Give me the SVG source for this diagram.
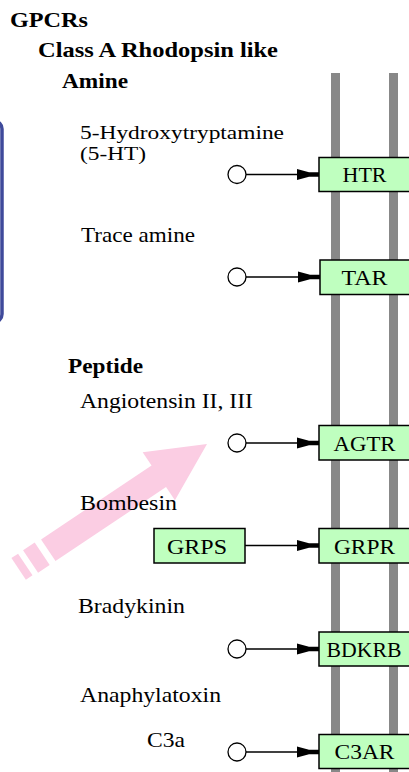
<svg xmlns="http://www.w3.org/2000/svg" width="409" height="772" viewBox="0 0 409 772">
<style>
text{font-family:"Liberation Serif","Times New Roman",serif;font-size:21px;fill:#000}
.h{font-weight:bold}
.sm{font-size:19px}
.bar{fill:#888}
.box{fill:#bfffbf;stroke:#000;stroke-width:1.5}
.lbl{text-anchor:middle}
.cpd{fill:#fff;stroke:#000;stroke-width:1.3}
.edge{stroke:#000;stroke-width:1.5;fill:none;marker-end:url(#ah)}
</style>
<defs>
<marker id="ah" markerUnits="userSpaceOnUse" markerWidth="24" markerHeight="14" viewBox="-24 -7 24 14" refX="0" refY="0" orient="auto">
<path d="M-22,-5.5 L-10,-2.2 L0,-2.2 L0,2.2 L-10,2.2 L-22,5.5 Z" fill="#000"/>
</marker>
</defs>
<rect width="409" height="772" fill="#fff"/>
<rect x="-20" y="121" width="22" height="201" rx="8" fill="none" stroke="#3f4a9b" stroke-width="3.5"/>
<g id="membrane">
<rect class="bar" x="331" y="73" width="9" height="700"/>
<rect class="bar" x="389" y="73" width="9" height="700"/>
</g>
<g id="highlight-arrow" transform="translate(207,444) rotate(-33.8)" fill="#fbcde3">
<polygon points="0,0 -58,-29 -58,-13 -191,-13 -191,13 -58,13 -58,29"/>
<rect x="-212" y="-14" width="14" height="27"/>
<rect x="-226" y="-14" width="8" height="26"/>
</g>
<g id="headings">
<text class="h" x="10" y="27" textLength="78" lengthAdjust="spacingAndGlyphs">GPCRs</text>
<text class="h" x="38" y="57" textLength="240" lengthAdjust="spacingAndGlyphs">Class A  Rhodopsin like</text>
<text class="h" x="62" y="88" textLength="66" lengthAdjust="spacingAndGlyphs">Amine</text>
<text class="h" x="68" y="373" textLength="75" lengthAdjust="spacingAndGlyphs">Peptide</text>
</g>
<g id="ligand-labels">
<text class="sm" x="80" y="139" textLength="204" lengthAdjust="spacingAndGlyphs">5-Hydroxytryptamine</text>
<text class="sm" x="80" y="160" textLength="66" lengthAdjust="spacingAndGlyphs">(5-HT)</text>
<text x="81" y="242" textLength="114" lengthAdjust="spacingAndGlyphs">Trace amine</text>
<text x="80" y="408" textLength="173" lengthAdjust="spacingAndGlyphs">Angiotensin II, III</text>
<text x="80" y="510" textLength="97" lengthAdjust="spacingAndGlyphs">Bombesin</text>
<text x="78" y="613" textLength="107" lengthAdjust="spacingAndGlyphs">Bradykinin</text>
<text x="80" y="702" textLength="141" lengthAdjust="spacingAndGlyphs">Anaphylatoxin</text>
<text x="147" y="747" textLength="38" lengthAdjust="spacingAndGlyphs">C3a</text>
</g>
<g id="connectors">
<line class="edge" x1="246" y1="174.5" x2="319" y2="174.5"/>
<line class="edge" x1="246" y1="277" x2="320" y2="277"/>
<line class="edge" x1="246" y1="443" x2="319" y2="443"/>
<line class="edge" x1="245" y1="545.5" x2="319" y2="545.5"/>
<line class="edge" x1="246" y1="649" x2="319" y2="649"/>
<line class="edge" x1="246" y1="752" x2="319" y2="752"/>
</g>
<g id="cpd-5HT"><circle class="cpd" cx="237" cy="174.5" r="9"/></g>
<g id="cpd-trace"><circle class="cpd" cx="237" cy="277" r="9"/></g>
<g id="cpd-angio"><circle class="cpd" cx="237" cy="443" r="9"/></g>
<g id="cpd-brady"><circle class="cpd" cx="237" cy="649" r="9"/></g>
<g id="cpd-c3a"><circle class="cpd" cx="237" cy="752" r="9"/></g>
<g id="HTR"><rect class="box" x="319" y="157.5" width="92" height="34"/><text class="lbl" x="364.5" y="182" textLength="44" lengthAdjust="spacingAndGlyphs">HTR</text></g>
<g id="TAR"><rect class="box" x="320" y="260" width="92" height="34.5"/><text class="lbl" x="364.5" y="285" textLength="46" lengthAdjust="spacingAndGlyphs">TAR</text></g>
<g id="AGTR"><rect class="box" x="319" y="425.5" width="92" height="34.5"/><text class="lbl" x="364.5" y="450.5" textLength="62" lengthAdjust="spacingAndGlyphs">AGTR</text></g>
<g id="GRPS"><rect class="box" x="154" y="528.5" width="91" height="34.5"/><text class="lbl" x="197" y="553.5" textLength="60" lengthAdjust="spacingAndGlyphs">GRPS</text></g>
<g id="GRPR"><rect class="box" x="319" y="528.5" width="92" height="34.5"/><text class="lbl" x="364.5" y="553.5" textLength="61" lengthAdjust="spacingAndGlyphs">GRPR</text></g>
<g id="BDKRB"><rect class="box" x="319" y="632" width="92" height="34"/><text class="lbl" x="364" y="656.5" textLength="75" lengthAdjust="spacingAndGlyphs">BDKRB</text></g>
<g id="C3AR"><rect class="box" x="319" y="734.5" width="92" height="34"/><text class="lbl" x="364.5" y="759" textLength="60" lengthAdjust="spacingAndGlyphs">C3AR</text></g>
</svg>
